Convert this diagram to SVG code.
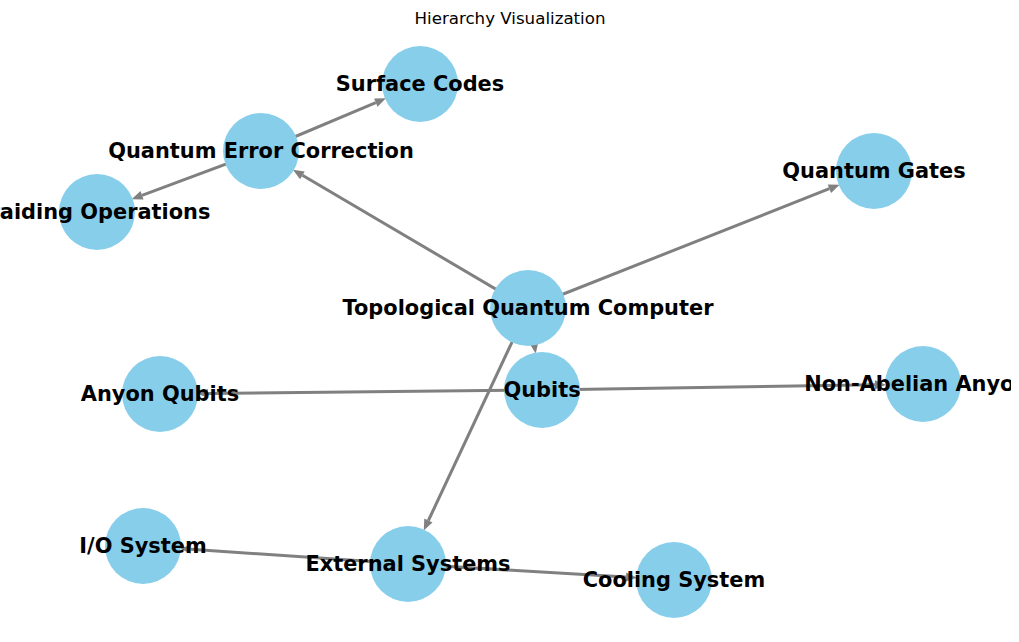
<svg xmlns="http://www.w3.org/2000/svg" width="1019" height="642" viewBox="0 0 1019 642">
<style>
.edge{stroke:#808080;stroke-width:3;fill:none;marker-end:url(#ah)}
.node circle{fill:#87CEEB}
.node text{font-family:"DejaVu Sans",sans-serif;font-weight:bold;font-size:20.9px;fill:#000;text-anchor:middle}
.title{font-family:"DejaVu Sans",sans-serif;font-size:16.67px;fill:#000;text-anchor:middle}
</style>
<defs>
<marker id="ah" markerUnits="userSpaceOnUse" markerWidth="12" markerHeight="10" refX="0" refY="4.5" orient="auto" overflow="visible">
<path d="M0,0 L11,4.5 L0,9 z" fill="#808080"/>
</marker>
<clipPath id="figclip"><rect x="0" y="0" width="1011" height="642"/></clipPath>
</defs>
<rect width="1019" height="642" fill="#fff"/>
<text class="title" x="510" y="24">Hierarchy Visualization</text>
<g id="edges">
<line class="edge" x1="528" y1="308" x2="302.4" y2="175.3"/>
<line class="edge" x1="528" y1="308" x2="829.4" y2="188.7"/>
<line class="edge" x1="528" y1="308" x2="533.9" y2="342.7"/>
<line class="edge" x1="528" y1="308" x2="428.4" y2="520.5"/>
<line class="edge" x1="261" y1="151" x2="375.8" y2="102.6"/>
<line class="edge" x1="261" y1="151" x2="142.0" y2="195.3"/>
<line class="edge" x1="542" y1="390" x2="208" y2="393.5"/>
<line class="edge" x1="542" y1="390" x2="875" y2="384.8"/>
<line class="edge" x1="408" y1="564" x2="190.9" y2="549.3"/>
<line class="edge" x1="408" y1="564" x2="626.1" y2="577.1"/>
</g>
<g id="n-tqc" class="node"><circle cx="528" cy="308" r="38"/></g>
<g id="n-qec" class="node"><circle cx="261" cy="151" r="38"/></g>
<g id="n-surface" class="node"><circle cx="420" cy="84" r="38"/></g>
<g id="n-braiding" class="node"><circle cx="97" cy="212" r="38"/></g>
<g id="n-gates" class="node"><circle cx="874" cy="171" r="38"/></g>
<g id="n-qubits" class="node"><circle cx="542" cy="390" r="38"/></g>
<g id="n-anyon" class="node"><circle cx="160" cy="394" r="38"/></g>
<g id="n-nonabelian" class="node"><circle cx="923" cy="384" r="38"/></g>
<g id="n-external" class="node"><circle cx="408" cy="564" r="38"/></g>
<g id="n-io" class="node"><circle cx="143" cy="546" r="38"/></g>
<g id="n-cooling" class="node"><circle cx="674" cy="580" r="38"/></g>
<g id="labels" class="node" clip-path="url(#figclip)">
<text x="528" y="315">Topological Quantum Computer</text>
<text x="261" y="158">Quantum Error Correction</text>
<text x="420" y="91">Surface Codes</text>
<text x="92" y="219">Braiding Operations</text>
<text x="874" y="178">Quantum Gates</text>
<text x="542" y="397">Qubits</text>
<text x="160" y="401">Anyon Qubits</text>
<text x="923" y="391">Non-Abelian Anyons</text>
<text x="408" y="571">External Systems</text>
<text x="143" y="553">I/O System</text>
<text x="674" y="587">Cooling System</text>
</g>
</svg>
